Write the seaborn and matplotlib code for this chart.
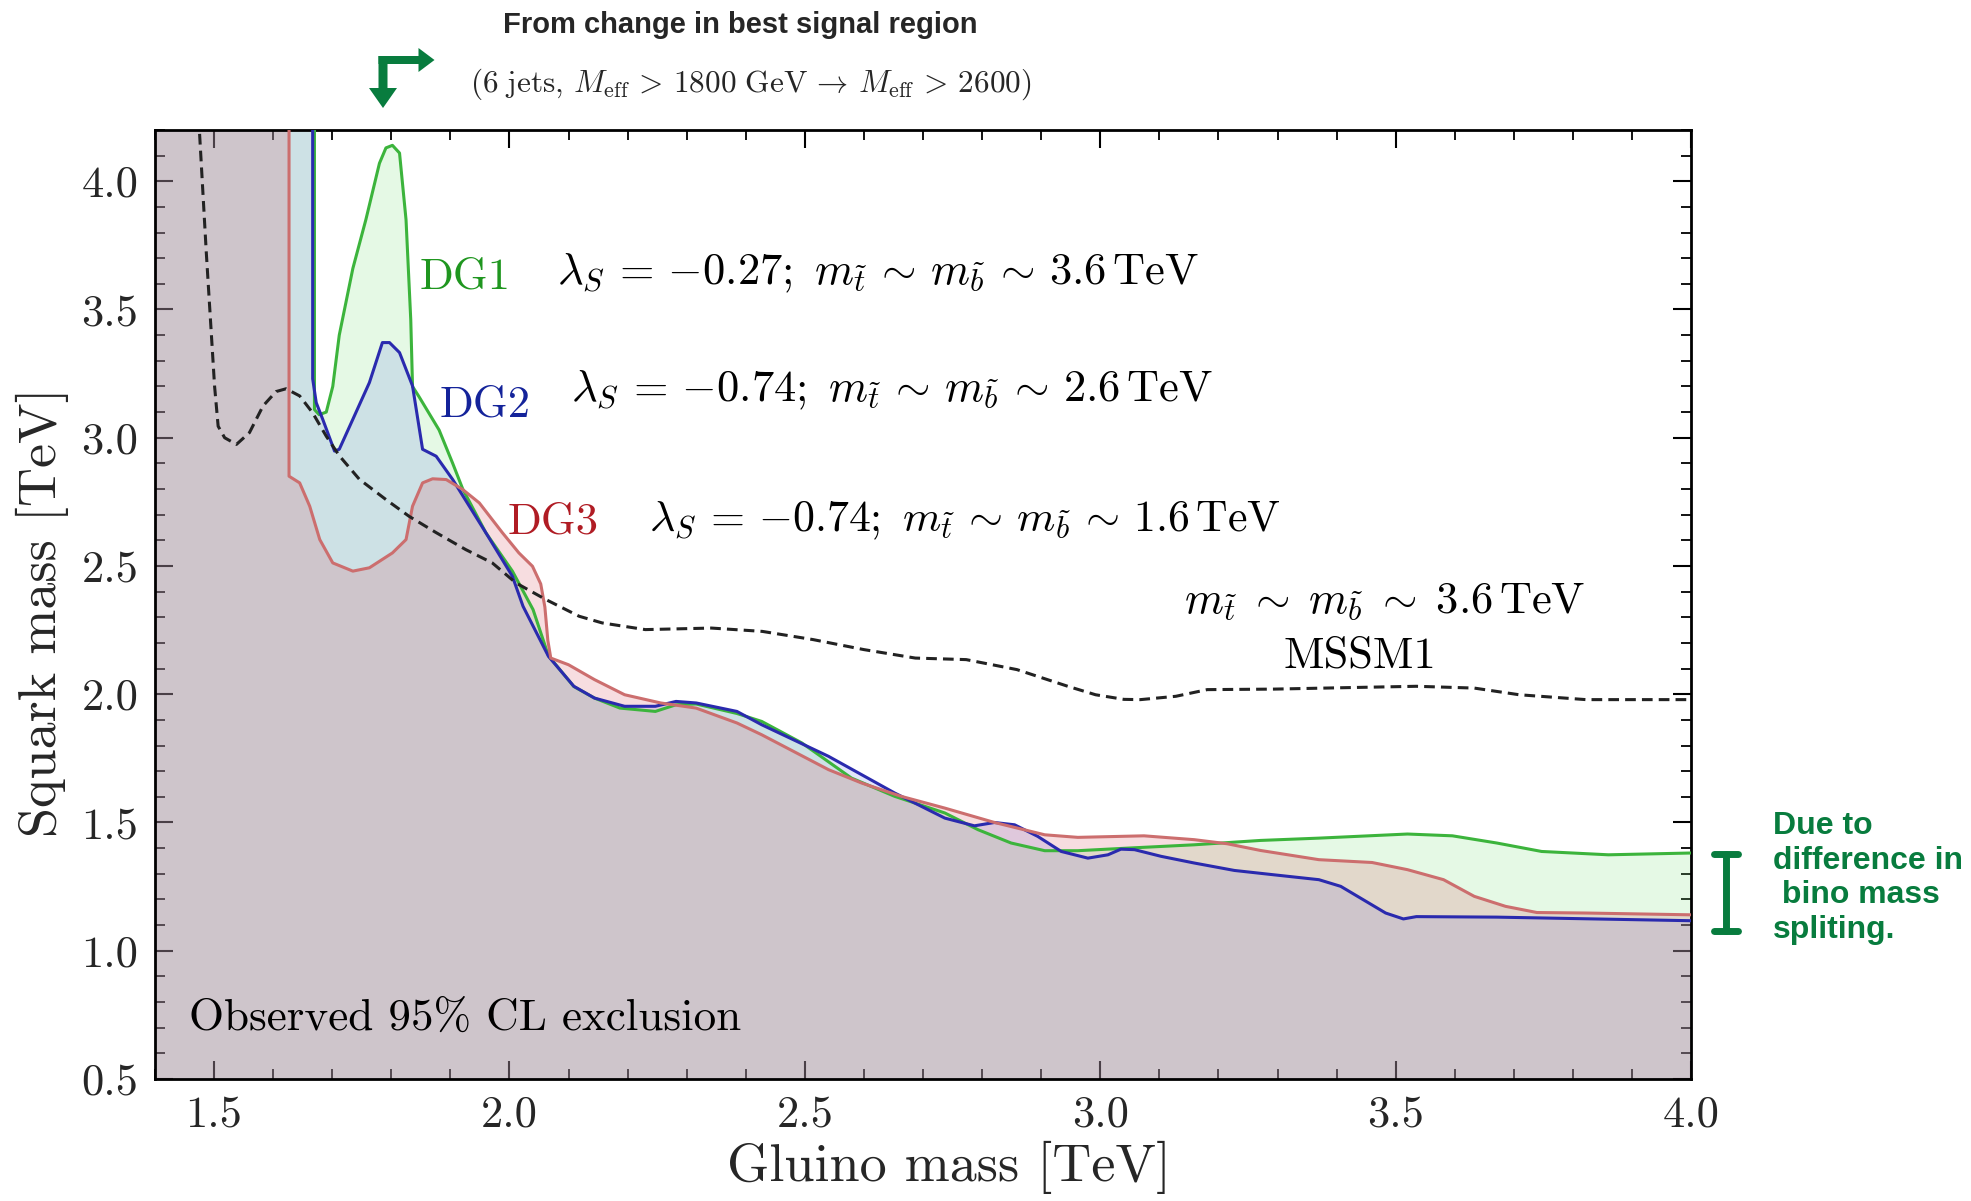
import numpy as np
import pandas as pd
import matplotlib
matplotlib.use("Agg")
import matplotlib.pyplot as plt
import seaborn as sns
from matplotlib.lines import Line2D
from matplotlib.patches import FancyArrow
from matplotlib.transforms import IdentityTransform

# ---------------- data ----------------
dg1_x = [1.40, 1.670, 1.670, 1.678, 1.690, 1.701, 1.712, 1.735, 1.757, 1.780, 1.791, 1.802,
         1.814, 1.825, 1.833, 1.836, 1.847, 1.881, 1.904, 1.921, 1.960, 2.005, 2.040, 2.066,
         2.109, 2.144, 2.187, 2.247, 2.282, 2.316, 2.385, 2.427, 2.495, 2.579, 2.652, 2.737,
         2.793, 2.849, 2.906, 2.962, 3.046, 3.159, 3.271, 3.370, 3.520, 3.596, 3.671, 3.747,
         3.860, 4.00]
dg1_y = [4.25, 4.25, 3.11, 3.09, 3.10, 3.20, 3.40, 3.66, 3.85, 4.07, 4.13, 4.14,
         4.11, 3.85, 3.46, 3.20, 3.16, 3.03, 2.90, 2.80, 2.63, 2.48, 2.33, 2.15,
         2.03, 1.985, 1.946, 1.933, 1.959, 1.962, 1.925, 1.894, 1.81, 1.673, 1.602, 1.537,
         1.472, 1.42, 1.39, 1.39, 1.40, 1.413, 1.43, 1.439, 1.455, 1.448, 1.42, 1.387,
         1.374, 1.381]

dg2_x = [1.40, 1.667, 1.667, 1.673, 1.684, 1.704, 1.712, 1.735, 1.763, 1.785, 1.797, 1.814,
         1.836, 1.853, 1.876, 1.904, 1.960, 2.005, 2.023, 2.066, 2.109, 2.144, 2.195, 2.247,
         2.282, 2.316, 2.385, 2.427, 2.540, 2.652, 2.737, 2.787, 2.821, 2.855, 2.894, 2.934,
         2.979, 3.013, 3.035, 3.058, 3.103, 3.159, 3.227, 3.294, 3.370, 3.407, 3.445, 3.483,
         3.513, 3.535, 3.671, 4.00]
dg2_y = [4.25, 4.25, 3.23, 3.137, 3.072, 2.948, 2.955, 3.072, 3.215, 3.371, 3.371, 3.332,
         3.202, 2.955, 2.928, 2.837, 2.63, 2.46, 2.343, 2.148, 2.031, 1.985, 1.953, 1.953,
         1.972, 1.966, 1.933, 1.881, 1.758, 1.615, 1.517, 1.487, 1.50, 1.491, 1.446, 1.387,
         1.361, 1.374, 1.396, 1.394, 1.368, 1.342, 1.313, 1.296, 1.277, 1.251, 1.199, 1.147,
         1.124, 1.133, 1.131, 1.117]

dg3_x = [1.40, 1.627, 1.627, 1.645, 1.662, 1.679, 1.701, 1.735, 1.763, 1.802, 1.825, 1.836,
         1.853, 1.870, 1.893, 1.921, 1.949, 1.988, 2.016, 2.039, 2.053, 2.060, 2.065, 2.070,
         2.100, 2.144, 2.195, 2.256, 2.316, 2.385, 2.427, 2.540, 2.596, 2.663, 2.737, 2.821,
         2.906, 2.962, 3.074, 3.159, 3.215, 3.271, 3.370, 3.460, 3.520, 3.581, 3.633, 3.686,
         3.739, 3.822, 4.00]
dg3_y = [4.25, 4.25, 2.85, 2.824, 2.733, 2.603, 2.512, 2.48, 2.493, 2.551, 2.603, 2.733,
         2.824, 2.84, 2.837, 2.798, 2.746, 2.63, 2.551, 2.499, 2.43, 2.34, 2.21, 2.141,
         2.115, 2.057, 1.998, 1.966, 1.946, 1.888, 1.842, 1.706, 1.654, 1.602, 1.556, 1.50,
         1.452, 1.442, 1.448, 1.433, 1.417, 1.391, 1.355, 1.344, 1.316, 1.277, 1.212, 1.173,
         1.149, 1.147, 1.14]

mssm1_x = [1.474, 1.487, 1.501, 1.507, 1.518, 1.538, 1.560, 1.583, 1.605, 1.622, 1.645, 1.667,
           1.690, 1.712, 1.746, 1.791, 1.830, 1.876, 1.926, 1.971, 2.011, 2.061, 2.118, 2.157,
           2.230, 2.342, 2.428, 2.514, 2.600, 2.687, 2.773, 2.859, 2.945, 2.992, 3.040, 3.068,
           3.128, 3.181, 3.294, 3.445, 3.535, 3.633, 3.709, 3.822, 4.00]
mssm1_y = [4.25, 3.72, 3.20, 3.045, 3.0, 2.974, 3.02, 3.124, 3.18, 3.191, 3.163, 3.097,
           3.006, 2.93, 2.838, 2.759, 2.694, 2.63, 2.564, 2.512, 2.434, 2.37, 2.304, 2.278,
           2.252, 2.258, 2.245, 2.213, 2.174, 2.141, 2.135, 2.096, 2.031, 1.998, 1.98, 1.979,
           1.992, 2.018, 2.02, 2.027, 2.031, 2.024, 1.998, 1.979, 1.979]

x_ticks = [1.5, 2.0, 2.5, 3.0, 3.5, 4.0]
y_ticks = [0.5, 1.0, 1.5, 2.0, 2.5, 3.0, 3.5, 4.0]

# ---------------- style ----------------
sns.set_theme(style="ticks")
plt.rcParams.update({
    "font.family": ["cmr10", "DejaVu Serif"],
    "mathtext.fontset": "cm",
    "axes.formatter.use_mathtext": True,
    "axes.unicode_minus": False,
    "axes.linewidth": 2.0,
    "axes.edgecolor": "black",
})

GREEN_L, BLUE_L, RED_L = "#3cb43c", "#2a2aae", "#cc6e6e"
GREEN_F, BLUE_F, RED_F = "#7de17d", "#6d81ea", "#d75564"
ANN_GREEN = "#087c3e"

fig = plt.figure(figsize=(19.71, 12.01), dpi=100)
ax = fig.add_axes([0.0786, 0.1016, 0.858 - 0.0786, 0.8918 - 0.1016])

ymin = 0.5
for xs, ys, fc in [(dg1_x, dg1_y, GREEN_F), (dg2_x, dg2_y, BLUE_F), (dg3_x, dg3_y, RED_F)]:
    ax.fill_between(xs, ymin, ys, color=fc, alpha=0.2, lw=0, zorder=1)

for xs, ys, lc in [(dg1_x, dg1_y, GREEN_L), (dg2_x, dg2_y, BLUE_L), (dg3_x, dg3_y, RED_L)]:
    df = pd.DataFrame({"x": xs, "y": ys})
    sns.lineplot(data=df, x="x", y="y", sort=False, estimator=None, color=lc,
                 lw=2.2, ax=ax, zorder=3)

df_m = pd.DataFrame({"x": mssm1_x, "y": mssm1_y})
sns.lineplot(data=df_m, x="x", y="y", sort=False, estimator=None, color="#222222",
             lw=2.2, ax=ax, zorder=4, linestyle=(0, (3.5, 2.0)))

ax.set_xlim(1.4, 4.0)
ax.set_ylim(0.5, 4.2)
ax.set_xticks(x_ticks)
ax.set_yticks(y_ticks)
ax.set_xticks(np.arange(1.4, 4.0001, 0.1), minor=True)
ax.set_yticks(np.arange(0.5, 4.2001, 0.1), minor=True)
ax.xaxis.set_major_formatter(matplotlib.ticker.FormatStrFormatter("%.1f"))
ax.yaxis.set_major_formatter(matplotlib.ticker.FormatStrFormatter("%.1f"))
ax.tick_params(which="both", direction="in", top=True, right=True, color="black")
ax.tick_params(which="major", length=13, width=1.5, labelsize=32, pad=12)
ax.tick_params(which="minor", length=7, width=1.3)
for s in ax.spines.values():
    s.set_visible(True)
    s.set_linewidth(2.0)

ax.set_xlabel("Gluino mass [TeV]", fontsize=39)
ax.set_ylabel("Squark mass [TeV]", fontsize=39)
ax.xaxis.set_label_coords(0.517, -0.065)
ax.yaxis.set_label_coords(-0.056, 0.492)

# ---------------- in-plot labels ----------------
tfs = 32
ax.text(1.848, 3.58, "DG1", color="#1f961f", fontsize=tfs, va="baseline")
ax.text(1.882, 3.083, "DG2", color="#14239a", fontsize=tfs, va="baseline")
ax.text(1.997, 2.626, "DG3", color="#b01c24", fontsize=tfs, va="baseline")
lam = r"$\lambda_S\,=\,{-%s};\ m_{\tilde{t}}\,\sim\,m_{\tilde{b}}\,\sim\,%s\,\mathrm{TeV}$"
ax.text(2.080, 3.598, lam % ("0.27", "3.6"), fontsize=tfs, va="baseline", color="black")
ax.text(2.105, 3.142, lam % ("0.74", "2.6"), fontsize=tfs, va="baseline", color="black")
ax.text(2.237, 2.634, lam % ("0.74", "1.6"), fontsize=31.5, va="baseline", color="black")
ax.text(3.142, 2.317, r"$m_{\tilde{t}}\;\sim\;m_{\tilde{b}}\;\sim\;3.6\,\mathrm{TeV}$",
        fontsize=tfs, va="baseline", color="black")
ax.text(3.44, 2.105, "MSSM1", fontsize=32, ha="center", va="baseline", color="black")
ax.text(1.457, 0.690, "Observed 95% CL exclusion", fontsize=32.5, va="baseline", color="black")

# ---------------- annotations outside the axes ----------------
fig.text(0.3754, 0.9725, "From change in best signal region", fontsize=21,
         fontweight="bold", family="Liberation Sans", ha="center", va="baseline")
fig.text(0.3810, 0.9234,
         r"$(6\ \mathrm{jets,}\,M_{\rm eff}\,>\,1800\ \mathrm{GeV}\,\rightarrow\,M_{\rm eff}\,>\,2600)$",
         fontsize=22.5, ha="center", va="baseline")

H = 1201
fig.add_artist(FancyArrow(383, H - 56, 0, -52, width=9, head_width=28, head_length=20,
                          length_includes_head=True, color=ANN_GREEN, lw=0,
                          transform=IdentityTransform()))
fig.add_artist(FancyArrow(378.5, H - 60, 56, 0, width=8, head_width=24, head_length=16,
                          length_includes_head=True, color=ANN_GREEN, lw=0,
                          transform=IdentityTransform()))

# I-beam
xb = 0.8757
fig.add_artist(Line2D([xb, xb], [0.2248, 0.2889], transform=fig.transFigure,
                      color=ANN_GREEN, lw=5, solid_capstyle="round"))
for yb in (0.2248, 0.2889):
    fig.add_artist(Line2D([0.8696, 0.8818], [yb, yb], transform=fig.transFigure,
                          color=ANN_GREEN, lw=5, solid_capstyle="round"))

fig.text(0.8996, 0.3247, "Due to\ndifference in\n bino mass\nspliting.", fontsize=23,
         fontweight="bold", family="Liberation Sans", color=ANN_GREEN,
         ha="left", va="top", linespacing=1.2)

fig.savefig("out.png", dpi=100)
